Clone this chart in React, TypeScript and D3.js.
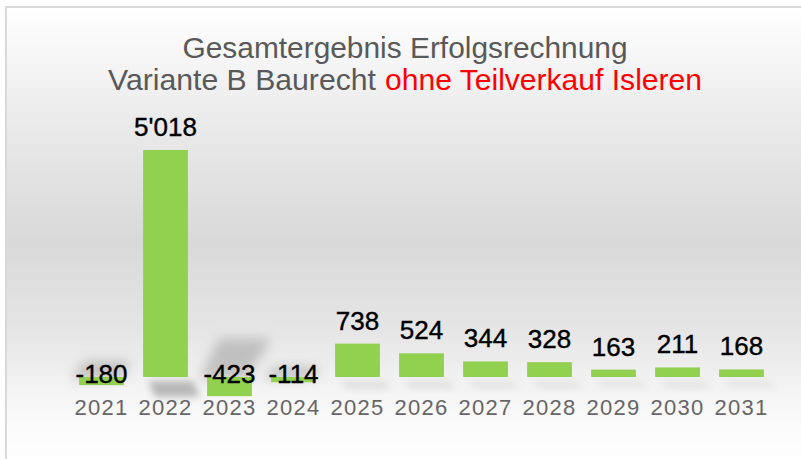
import React from "react";
import * as d3 from "d3";

const years = ["2021", "2022", "2023", "2024", "2025", "2026", "2027", "2028", "2029", "2030", "2031"];
const values = [-180, 5018, -423, -114, 738, 524, 344, 328, 163, 211, 168];
const titleLine1 = "Gesamtergebnis Erfolgsrechnung";
const titleLine2a = "Variante B Baurecht";
const titleLine2b = "ohne Teilverkauf Isleren";

const W = 801;
const H = 459;

const fmt = (v: number) => {
  const s = d3.format(",")(Math.abs(v)).replace(/,/g, "'");
  return v < 0 ? "-" + s : s;
};

export default function App() {
  const x = d3
    .scaleBand<string>()
    .domain(years)
    .range([69.5, 773.5])
    .paddingInner(0.3)
    .paddingOuter(0.15);
  const y = d3.scaleLinear().domain([0, 5018]).range([377, 150]);
  const y0 = y(0);
  const bw = x.bandwidth();
  const font = "'Liberation Sans', Arial, sans-serif";

  return (
    <svg
      width={W}
      height={H}
      style={{ position: "absolute", left: 0, top: 0 }}
      xmlns="http://www.w3.org/2000/svg"
    >
      <defs>
        <linearGradient id="bg" x1="0" y1="0" x2="0" y2="1">
          <stop offset="0" stopColor="#ffffff" />
          <stop offset="0.23" stopColor="#ececec" />
          <stop offset="0.515" stopColor="#d9d9d9" />
          <stop offset="0.715" stopColor="#e6e6e6" />
          <stop offset="0.87" stopColor="#f7f7f7" />
          <stop offset="1" stopColor="#ffffff" />
        </linearGradient>
        <filter id="blur" x="-50%" y="-50%" width="200%" height="200%">
          <feGaussianBlur stdDeviation="3.5" />
        </filter>
        <filter id="blur2" x="-80%" y="-80%" width="260%" height="260%">
          <feGaussianBlur stdDeviation="6" />
        </filter>
      </defs>
      <rect width={W} height={H} fill="#ffffff" />
      <rect x={6} y={7} width={W + 10} height={H - 3} fill="url(#bg)" stroke="#d9d9d9" strokeWidth={2} />

      <text x={405} y={58} fontFamily={font} fontSize={29} fill="#595959" textAnchor="middle"
        textLength={445} lengthAdjust="spacingAndGlyphs">
        {titleLine1}
      </text>
      <text x={108} y={90} fontFamily={font} fontSize={29} fill="#595959"
        textLength={268} lengthAdjust="spacingAndGlyphs">
        {titleLine2a}
      </text>
      <text x={385} y={90} fontFamily={font} fontSize={29} fill="#ff0000"
        textLength={317} lengthAdjust="spacingAndGlyphs">
        {titleLine2b}
      </text>

      {years.map((yr, i) => {
        const v = values[i];
        const x0 = x(yr)!;
        const x1 = x0 + bw;
        const h = Math.abs(y(v) - y0);
        if (v >= 0) {
          const sh = 7 + h * 0.04;
          const op = Math.min(0.5, 0.1 + h * 0.002);
          return (
            <polygon key={yr} fill="#7f7f7f" opacity={op} filter="url(#blur)"
              points={`${x0 + 5},${y0 + 4} ${x1 + 5},${y0 + 4} ${x1 + 12},${y0 + 4 + sh} ${x0 + 12},${y0 + 4 + sh}`} />
          );
        }
        const sh = h * 2;
        return (
          <polygon key={yr} fill="#808080" opacity={0.4} filter="url(#blur2)"
            points={`${x0 - 8},${y0 + 2} ${x1 - 5},${y0 + 2} ${x1 + h},${y0 - sh} ${x0 + h * 0.6},${y0 - sh}`} />
        );
      })}

      {years.map((yr, i) => {
        const v = values[i];
        return (
          <rect key={yr} x={x(yr)} y={Math.min(y(v), y0)} width={bw}
            height={Math.abs(y(v) - y0)} fill="#92d050" />
        );
      })}

      {years.map((yr, i) => {
        const v = values[i];
        const cx = x(yr)! + bw / 2;
        const ty = v >= 0 ? y(v) - 14 : y0 + 6;
        return (
          <text key={yr} x={cx} y={ty} fontFamily={font} fontSize={26} fill="#000000"
            stroke="#000000" strokeWidth={0.4} textAnchor="middle">
            {fmt(v)}
          </text>
        );
      })}

      {years.map((yr) => (
        <text key={yr} x={x(yr)! + bw / 2} y={415} fontFamily={font} fontSize={22}
          fill="#666666" textAnchor="middle" letterSpacing={1.3}>
          {yr}
        </text>
      ))}
    </svg>
  );
}
